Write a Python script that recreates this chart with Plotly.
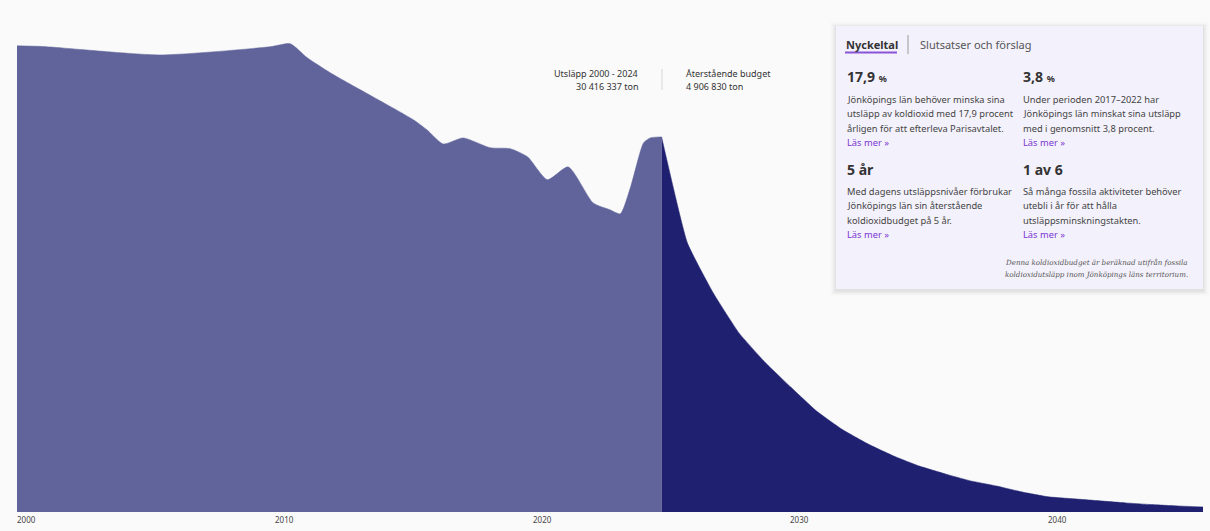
import plotly.graph_objects as go

# ---------------- data ----------------
hist_years = [2000.0, 2001.0, 2005.55, 2009.8, 2010.6, 2011.25, 2012.15, 2015.37, 2015.9,
              2016.53, 2017.3, 2018.35, 2019.13, 2019.8, 2020.57, 2021.38, 2022.35,
              2023.0, 2023.4, 2023.8, 2024.3, 2024.56, 2024.95, 2025.0]
hist_tons = [1382000, 1380000, 1355000, 1379000, 1388000, 1347000, 1302000, 1163000, 1133000,
             1091000, 1109000, 1080000, 1077000, 1053000, 985000, 1023000, 916000,
             896000, 884000, 964000, 1094000, 1109000, 1112000, 1112000]

budget_years = list(range(2025, 2047))
budget_tons = [1112000, 798000, 650000, 531000, 445000, 371000, 300000, 245000, 202000,
               166000, 136000, 113000, 92000, 77000, 59000, 45000, 39000, 33000, 27000,
               22000, 18000, 15000]

tick_years = [2000, 2010, 2020, 2030, 2040]

# ---------------- geometry helpers ----------------
W, H = 1210, 531
ML, MR, MT, MB = 17, 7, 6, 19
PW, PH = W - ML - MR, H - MT - MB


def px(x):
    return (x - ML) / PW


def py(y):
    return (H - MB - y) / PH


FONT = "Noto Sans"
DARK = "#333333"
PURPLE = "#7b35d4"

fig = go.Figure()
fig.add_trace(go.Scatter(
    x=hist_years, y=hist_tons, mode="lines", fill="tozeroy",
    line=dict(color="#61649b", width=0.5, shape="spline", smoothing=0.6),
    fillcolor="#61649b", hoverinfo="skip", showlegend=False))
fig.add_trace(go.Scatter(
    x=budget_years, y=budget_tons, mode="lines", fill="tozeroy",
    line=dict(color="#1f2070", width=0.5, shape="spline", smoothing=0.4),
    fillcolor="#1f2070", hoverinfo="skip", showlegend=False))

ann = []
shapes = []


def text(x, y, s, size=9.5, color=DARK, anchor="left", family=FONT):
    ann.append(dict(x=px(x + (1 if anchor == "left" else 0)), y=py(y), xref="paper", yref="paper",
                    text=s, showarrow=False, xanchor=anchor, yanchor="middle",
                    borderpad=0, borderwidth=0,
                    font=dict(family=family, size=size, color=color)))


# x tick labels
for yr in tick_years:
    ann.append(dict(x=yr, y=0, xref="x", yref="paper", text=str(yr), showarrow=False,
                    xanchor="left", yanchor="top", yshift=-2, xshift=0,
                    borderpad=0, borderwidth=0,
                    font=dict(family=FONT, size=8, color="#444444")))

# middle annotation
text(638, 73, "Utsläpp 2000 - 2024", size=9, anchor="right")
text(638, 87, "30 416 337 ton", size=9, anchor="right")
text(685, 73, "Återstående budget", size=9)
text(685, 87, "4 906 830 ton", size=9)
shapes.append(dict(type="line", xref="paper", yref="paper", x0=px(662), x1=px(662),
                   y0=py(69), y1=py(90), line=dict(color="#d6d6d6", width=1)))

# card shadow + card
for i, op in enumerate([0.035, 0.025, 0.018, 0.012, 0.008]):
    d = (i + 1) * 1.2
    shapes.append(dict(type="rect", xref="paper", yref="paper", layer="below",
                       x0=px(836 - d), x1=px(1203 + d), y0=py(289 + d + 1.5), y1=py(26 - d + 1.5),
                       line=dict(width=0), fillcolor=f"rgba(0,0,0,{op})"))
shapes.append(dict(type="rect", xref="paper", yref="paper", layer="below",
                   x0=px(836), x1=px(1203), y0=py(289), y1=py(26),
                   line=dict(width=0), fillcolor="#f3f1fb"))

text(845, 44, "<b>Nyckeltal</b>", size=11, color=DARK)
shapes.append(dict(type="line", xref="paper", yref="paper", x0=px(845), x1=px(897),
                   y0=py(52.5), y1=py(52.5), line=dict(color="#8a55d8", width=2)))
shapes.append(dict(type="line", xref="paper", yref="paper", x0=px(908), x1=px(908),
                   y0=py(35), y1=py(54), line=dict(color="#9a9a9a", width=1)))
text(919, 44, "Slutsatser och förslag", size=11, color="#555555")

cards = [
    (846, 77, "<b>17,9 </b><span style='font-size:9px'><b>%</b></span>",
     ["Jönköpings län behöver minska sina",
      "utsläpp av koldioxid med 17,9 procent",
      "årligen för att efterleva Parisavtalet."]),
    (1022, 77, "<b>3,8 </b><span style='font-size:9px'><b>%</b></span>",
     ["Under perioden 2017–2022 har",
      "Jönköpings län minskat sina utsläpp",
      "med i genomsnitt 3,8 procent."]),
    (846, 169, "<b>5 år</b>",
     ["Med dagens utsläppsnivåer förbrukar",
      "Jönköpings län sin återstående",
      "koldioxidbudget på 5 år."]),
    (1022, 169, "<b>1 av 6</b>",
     ["Så många fossila aktiviteter behöver",
      "utebli i år för att hålla",
      "utsläppsminskningstakten."]),
]
for x, y, head, lines in cards:
    text(x, y, head, size=14, color=DARK)
    for i, ln in enumerate(lines):
        text(x, y + 22 + i * 14.7, ln, size=9.3, color="#444444")
    text(x, y + 22 + 3 * 14.7 - 1, "Läs mer »", size=9.3, color=PURPLE)

text(1188, 262, "<i>Denna koldioxidbudget är beräknad utifrån fossila</i>", size=7.1,
     color="#555555", anchor="right", family="DejaVu Serif")
text(1188, 274, "<i>koldioxidutsläpp inom Jönköpings läns territorium.</i>", size=7.1,
     color="#555555", anchor="right", family="DejaVu Serif")

fig.update_layout(
    width=W, height=H, autosize=False,
    margin=dict(l=ML, r=MR, t=MT, b=MB, pad=0),
    paper_bgcolor="#fafafa", plot_bgcolor="#fafafa",
    xaxis=dict(range=[2000, 2046], showgrid=False, zeroline=False, showticklabels=False,
               ticks="", showline=False, fixedrange=True),
    yaxis=dict(range=[0, 1500000], showgrid=False, zeroline=False, showticklabels=False,
               ticks="", showline=False, fixedrange=True),
    annotations=ann, shapes=shapes, showlegend=False,
)

fig.write_html("out.html", config={"displayModeBar": False},
               post_script="document.body.style.margin='0';document.body.style.overflow='hidden';")
